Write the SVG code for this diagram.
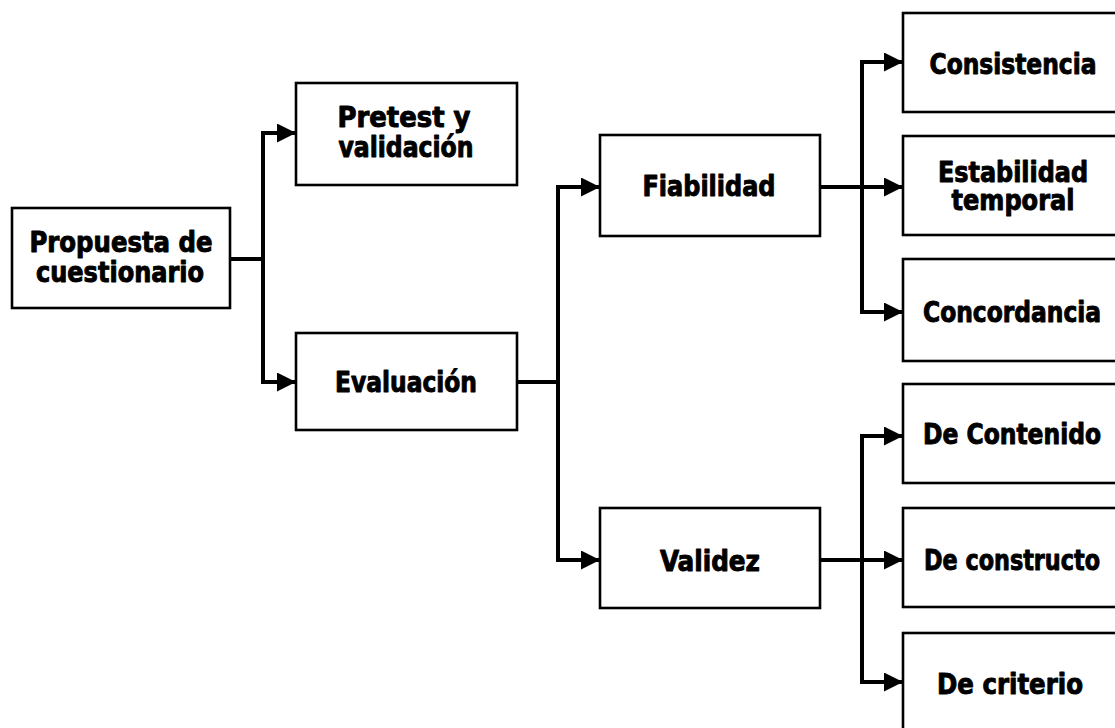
<svg xmlns="http://www.w3.org/2000/svg" width="1115" height="728" viewBox="0 0 1115 728">
  <style>
    .box { fill: #ffffff; stroke: #000000; stroke-width: 2.6; }
    .lbl { font-family: "DejaVu Sans Condensed", "DejaVu Sans", "Liberation Sans", sans-serif; font-weight: bold; font-size: 28px; fill: #000000; stroke: #000000; stroke-width: 0.9; stroke-linejoin: round; text-anchor: middle; }
    .wire { fill: none; stroke: #000000; stroke-width: 4; stroke-linejoin: miter; }
  </style>
  <defs>
    <marker id="head" markerUnits="userSpaceOnUse" markerWidth="20" markerHeight="20" refX="19" refY="9.5" orient="auto">
      <path d="M0,0 L19,9.5 L0,19 Z" fill="#000000"/>
    </marker>
  </defs>
  <rect width="1115" height="728" fill="#ffffff"/>

  <g id="connectors">
    <path class="wire" d="M230,259 H263 V133 H296" marker-end="url(#head)"/>
    <path class="wire" d="M263,259 V382 H296" marker-end="url(#head)"/>
    <path class="wire" d="M517,382 H558 V187 H600" marker-end="url(#head)"/>
    <path class="wire" d="M558,382 V560 H600" marker-end="url(#head)"/>
    <path class="wire" d="M820,187 H903" marker-end="url(#head)"/>
    <path class="wire" d="M862,187 V62 H903" marker-end="url(#head)"/>
    <path class="wire" d="M862,187 V312 H903" marker-end="url(#head)"/>
    <path class="wire" d="M820,560 H903" marker-end="url(#head)"/>
    <path class="wire" d="M862,560 V436 H903" marker-end="url(#head)"/>
    <path class="wire" d="M862,560 V682 H903" marker-end="url(#head)"/>
  </g>

  <g id="propuesta">
    <rect class="box" x="12" y="208" width="218" height="100"/>
    <text class="lbl" x="121" y="252" textLength="183" lengthAdjust="spacingAndGlyphs">Propuesta de</text>
    <text class="lbl" x="120" y="282" textLength="168" lengthAdjust="spacingAndGlyphs">cuestionario</text>
  </g>
  <g id="pretest">
    <rect class="box" x="296" y="83" width="221" height="102"/>
    <text class="lbl" x="404" y="127" textLength="133" lengthAdjust="spacingAndGlyphs">Pretest y</text>
    <text class="lbl" x="406" y="157" textLength="135" lengthAdjust="spacingAndGlyphs">validación</text>
  </g>
  <g id="evaluacion">
    <rect class="box" x="296" y="333" width="221" height="97"/>
    <text class="lbl" x="406" y="392" textLength="142" lengthAdjust="spacingAndGlyphs">Evaluación</text>
  </g>
  <g id="fiabilidad">
    <rect class="box" x="600" y="135" width="220" height="101"/>
    <text class="lbl" x="709" y="196" textLength="133" lengthAdjust="spacingAndGlyphs">Fiabilidad</text>
  </g>
  <g id="validez">
    <rect class="box" x="600" y="508" width="220" height="100"/>
    <text class="lbl" x="710" y="571" textLength="100" lengthAdjust="spacingAndGlyphs">Validez</text>
  </g>
  <g id="consistencia">
    <rect class="box" x="903" y="13" width="220" height="99"/>
    <text class="lbl" x="1013" y="74" textLength="167" lengthAdjust="spacingAndGlyphs">Consistencia</text>
  </g>
  <g id="estabilidad">
    <rect class="box" x="903" y="136" width="220" height="99"/>
    <text class="lbl" x="1013" y="182" textLength="150" lengthAdjust="spacingAndGlyphs">Estabilidad</text>
    <text class="lbl" x="1013" y="210" textLength="123" lengthAdjust="spacingAndGlyphs">temporal</text>
  </g>
  <g id="concordancia">
    <rect class="box" x="903" y="259" width="220" height="102"/>
    <text class="lbl" x="1012" y="322" textLength="178" lengthAdjust="spacingAndGlyphs">Concordancia</text>
  </g>
  <g id="contenido">
    <rect class="box" x="903" y="384" width="220" height="99"/>
    <text class="lbl" x="1012" y="444" textLength="178" lengthAdjust="spacingAndGlyphs">De Contenido</text>
  </g>
  <g id="constructo">
    <rect class="box" x="903" y="508" width="220" height="99"/>
    <text class="lbl" x="1012" y="570" textLength="176" lengthAdjust="spacingAndGlyphs">De constructo</text>
  </g>
  <g id="criterio">
    <rect class="box" x="903" y="633" width="220" height="102"/>
    <text class="lbl" x="1010" y="694" textLength="146" lengthAdjust="spacingAndGlyphs">De criterio</text>
  </g>
</svg>
